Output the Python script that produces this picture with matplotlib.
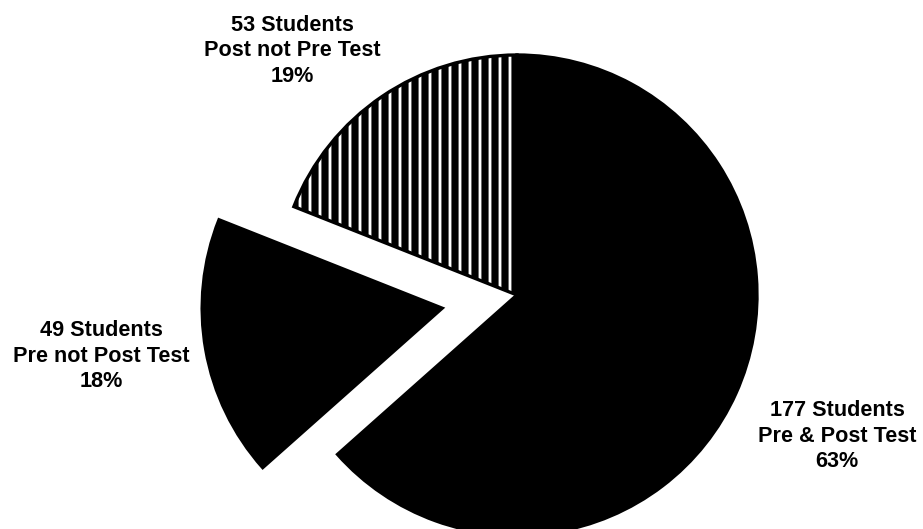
import matplotlib
matplotlib.use('Agg')
import matplotlib.pyplot as plt

# student counts per group, clockwise from 12 o'clock
groups = ['Pre & Post Test', 'Pre not Post Test', 'Post not Pre Test']
students = [177, 49, 53]
percents = [63, 18, 19]

plt.rcParams['font.family'] = ['Liberation Sans', 'DejaVu Sans']
plt.rcParams['hatch.linewidth'] = 4.3
plt.rcParams['hatch.color'] = 'black'

fig = plt.figure(figsize=(923 / 120, 529 / 120), dpi=120)
ax = fig.add_axes([0, 0, 1, 1])

# axes in pixel units, y pointing up
cx, cy, r = 517, 529 - 295, 240
wedges, _ = ax.pie(students, startangle=90, counterclock=False,
                   center=(cx, cy), radius=r,
                   explode=[0, 76, 0],
                   colors=['black', 'black', 'white'],
                   hatch=['', '', '||'],
                   wedgeprops=dict(edgecolor='black', linewidth=2))
ax.set_aspect('equal')
ax.set_xlim(0, 923)
ax.set_ylim(0, 529)
ax.axis('off')

# label anchors (pixel coords) for each slice
label_xy = [(837, 529 - 436), (101, 529 - 356), (292, 529 - 51)]
for n, name, p, (x, y) in zip(students, groups, percents, label_xy):
    ax.text(x, y, f'{n} Students\n{name}\n{p}%', ha='center', va='center',
            fontsize=13, fontweight='bold', linespacing=1.3)

fig.savefig('out.png', dpi=120)
